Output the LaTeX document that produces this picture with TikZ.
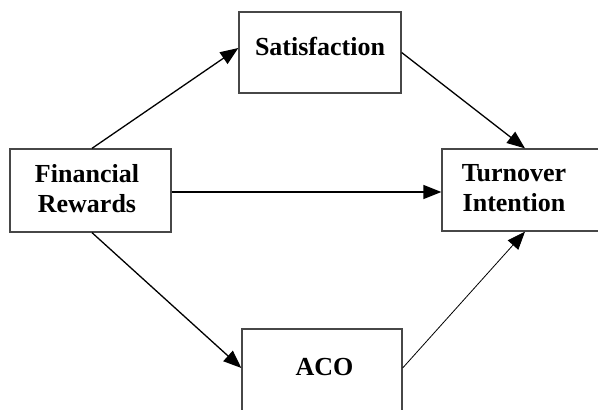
\documentclass[tikz,border=0pt]{standalone}
\usepackage{fontspec}
\setmainfont{Liberation Serif}
\usetikzlibrary{arrows.meta}
\begin{document}
\begin{tikzpicture}[x=1pt,y=-1pt,
  box/.style={draw=black!72,line width=1.3pt,rectangle,inner sep=0pt},
  lbl/.style={font=\bfseries\fontsize{26}{30}\selectfont,align=center,inner sep=0pt},
  conn/.style={line width=1.3pt,-{Triangle[length=18pt,width=14pt]}},
  thinconn/.style={line width=0.8pt,-{Triangle[length=18pt,width=14pt]}}]
\useasboundingbox (0,0) rectangle (598,410);
\node[box,minimum width=161pt,minimum height=83pt] (FR) at (90.5,190.5) {};
\node[box,minimum width=162pt,minimum height=81pt] (Sat) at (320,52.5) {};
\node[box,minimum width=164pt,minimum height=82pt] (TI) at (524,190) {};
\node[box,minimum width=160pt,minimum height=82pt] (ACO) at (322,370) {};
\node[lbl,anchor=base] (FRt1) at (87,182) {Financial};
\node[lbl,anchor=base] (FRt2) at (87,212.5) {Rewards};
\node[lbl,anchor=base] (Satt) at (320,55) {Satisfaction};
\node[lbl,anchor=base] (TIt1) at (514,181.7) {Turnover};
\node[lbl,anchor=base] (TIt2) at (514,211.7) {Intention};
\node[lbl,anchor=base] (ACOt) at (324.5,375.7) {ACO};
\draw[conn] ([xshift=1.5pt]FR.north) -- ([yshift=4.5pt]Sat.west);
\draw[conn] (Sat.east) -- ([xshift=1pt]TI.north);
\draw[conn] ([yshift=-1.5pt]FR.east) -- ([yshift=-2pt]TI.west);
\draw[conn] ([xshift=1.5pt]FR.south) -- ([yshift=2pt]ACO.west);
\draw[thinconn] ([yshift=2pt]ACO.east) -- ([xshift=1pt]TI.south);
\end{tikzpicture}
\end{document}
